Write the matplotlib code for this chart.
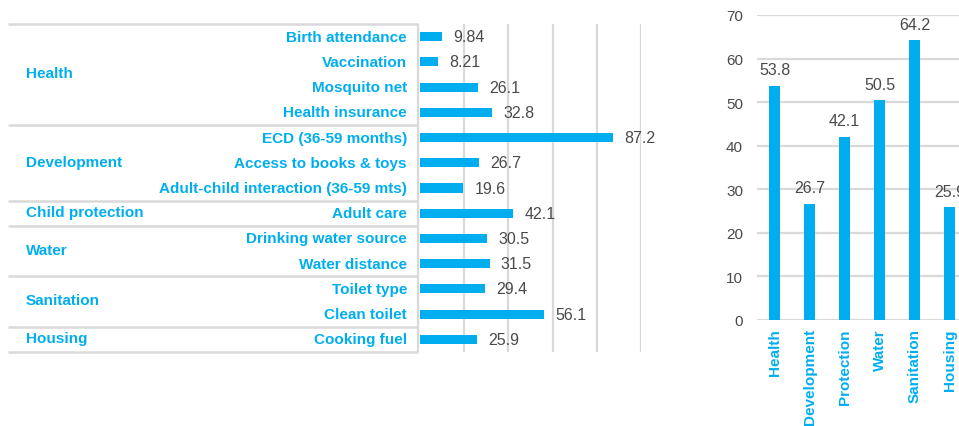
import matplotlib
matplotlib.use("Agg")
import matplotlib.pyplot as plt
import matplotlib.transforms as mtransforms
import numpy as np

plt.rcParams['font.family'] = ['Liberation Sans', 'DejaVu Sans']

# datos - panel izquierdo
items = ['Birth attendance', 'Vaccination', 'Mosquito net', 'Health insurance',
         'ECD (36-59 months)', 'Access to books & toys', 'Adult-child interaction (36-59 mts)',
         'Adult care', 'Drinking water source', 'Water distance',
         'Toilet type', 'Clean toilet', 'Cooking fuel']
valores = [9.84, 8.21, 26.1, 32.8, 87.2, 26.7, 19.6, 42.1, 30.5, 31.5, 29.4, 56.1, 25.9]
etiquetas = ['9.84', '8.21', '26.1', '32.8', '87.2', '26.7', '19.6', '42.1', '30.5', '31.5', '29.4', '56.1', '25.9']
grupos = ['Health', 'Development', 'Child protection', 'Water', 'Sanitation', 'Housing']
tam_grupos = [4, 3, 1, 2, 2, 1]

# datos - panel derecho
dimensiones = ['Health', 'Development', 'Protection', 'Water', 'Sanitation', 'Housing']
dim_valores = [53.8, 26.7, 42.1, 50.5, 64.2, 25.9]

azul = '#00AEEF'
gris = '#d9d9d9'
texto = '#4a4a4a'

W, H = 959, 427
fig = plt.figure(figsize=(W / 100, H / 100), dpi=100)

# panel izquierdo
ax1 = fig.add_axes([420 / W, 1 - 353 / H, 221 / W, 328 / H])
y = np.arange(len(items))
ax1.barh(y, valores, height=0.36, color=azul, zorder=3)
ax1.set_xlim(0, 100)
ax1.set_ylim(len(items) - 0.5, -0.5)
for gx in [20, 40, 60, 80, 100]:
    ax1.axvline(gx, color=gris, lw=1.6, zorder=1)
for s in ax1.spines.values():
    s.set_visible(False)
ax1.set_xticks([])
ax1.set_yticks([])
for i, v in enumerate(valores):
    ax1.annotate(etiquetas[i], (v, i), xytext=(8, 0), textcoords='offset points',
                 va='center', ha='left', fontsize=11.5, color=texto, annotation_clip=False)

tr = mtransforms.blended_transform_factory(fig.transFigure, ax1.transData)
x0, x1 = 8 / W, 418 / W
# tabla
bordes = [-0.5] + list(np.cumsum(tam_grupos) - 0.5)
for b in bordes:
    ax1.plot([x0, x1], [b, b], transform=tr, color=gris, lw=1.8, clip_on=False,
             solid_capstyle='butt')
ax1.plot([x1, x1], [-0.5, len(items) - 0.5], transform=tr, color=gris, lw=1.6,
         clip_on=False, solid_capstyle='butt')
for i, it in enumerate(items):
    ax1.text(407 / W, i, it, transform=tr, ha='right', va='center', fontsize=11,
             fontweight='bold', color=azul)
inicio = 0
for g, n in zip(grupos, tam_grupos):
    centro = inicio + (n - 1) / 2 - 0.05
    ax1.text(26 / W, centro, g, transform=tr, ha='left', va='center', fontsize=11,
             fontweight='bold', color=azul)
    inicio += n

# panel derecho
ax2 = fig.add_axes([757 / W, 1 - 321 / H, 210 / W, 305 / H])
xpos = np.arange(len(dimensiones))
ax2.bar(xpos, dim_valores, width=0.3, color=azul, zorder=3)
ax2.set_xlim(-0.5, len(dimensiones) - 0.5)
ax2.set_ylim(0, 70)
ax2.set_yticks(range(0, 71, 10))
ax2.yaxis.grid(True, color=gris, lw=1.6, zorder=0)
ax2.set_axisbelow(True)
for s in ax2.spines.values():
    s.set_visible(False)
ax2.tick_params(axis='y', length=0, pad=10, labelsize=11, labelcolor=texto)
ax2.tick_params(axis='x', length=0, pad=6)
ax2.set_xticks(xpos)
ax2.set_xticklabels(dimensiones, rotation=90, fontsize=11, fontweight='bold', color=azul)
for i, v in enumerate(dim_valores):
    ax2.annotate(f'{v:.1f}', (i, v), xytext=(0, 6), textcoords='offset points',
                 ha='center', va='bottom', fontsize=11.5, color=texto, annotation_clip=False)

fig.savefig('out.png', dpi=100)
